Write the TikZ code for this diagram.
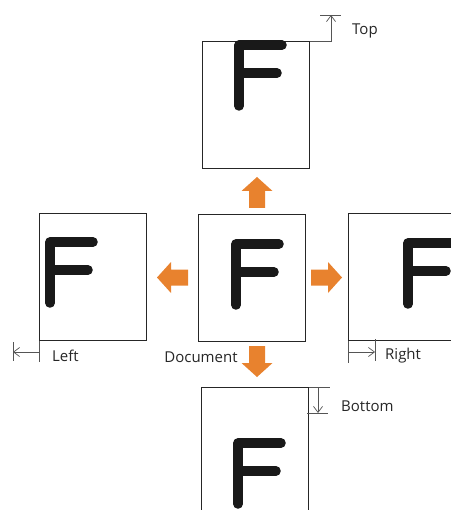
\documentclass[tikz,border=0pt]{standalone}
\usepackage{fontspec}
\setmainfont{Open Sans}
\usetikzlibrary{arrows.meta}

\definecolor{docorange}{HTML}{E8822E}
\definecolor{rulegray}{HTML}{555555}

\tikzset{
  page/.style={draw=black!85, line width=0.8pt, minimum width=107pt,
    minimum height=127pt, inner sep=0pt, anchor=north west},
  dimline/.style={draw=rulegray, line width=0.7pt},
  dimarrow/.style={dimline, -{Straight Barb[length=6pt,width=9pt]}},
  dimlabel/.style={anchor=west, inner sep=0pt, text=black!85,
    font=\fontsize{15}{17}\selectfont},
  pics/glyphF/.style={code={
    \draw[line width=9.5pt, line cap=round, line join=round, black!90]
      (43,0) -- (0,0) -- (0,61);
    \draw[line width=9.5pt, line cap=round, black!90] (0,28) -- (38,28);
  }},
  pics/blockarrow/.style={code={
    \fill[docorange] (0,0) -- (15.5,14) -- (8,14) -- (8,31) -- (-8,31)
      -- (-8,14) -- (-15.5,14) -- cycle;
  }},
}

\begin{document}
\begin{tikzpicture}[x=1pt, y=-1pt]
  \useasboundingbox (0,0) rectangle (450,510);

  % pages
  \node[page] (toppage) at (202,41) {};
  \node[page] (docpage) at (198,214) {};
  \node[page] (leftpage) at (39,213) {};
  \node[page] (rightpage) at (348,213) {};
  \node[page] (bottompage) at (201,387) {};

  % the letter on each page
  \pic at (239,45) {glyphF};
  \pic at (236,244) {glyphF};
  \pic at (50,242) {glyphF};
  \pic at (408,243) {glyphF};
  \pic at (238,443) {glyphF};

  % orange arrows
  \pic at (257,177) {blockarrow};
  \pic[rotate=180] at (257,377) {blockarrow};
  \pic[rotate=90] at (157,277.5) {blockarrow};
  \pic[rotate=-90] at (342,277.5) {blockarrow};

  % top offset
  \coordinate (topend) at (331,15);
  \draw[dimarrow] (toppage.north east) -| (topend);
  \draw[dimline] (320,15) -- (341,15);
  \node[dimlabel] (toplabel) at (352,31) {Top};

  % left offset
  \coordinate (leftend) at (13,352);
  \draw[dimline] (leftpage.south west) -- ++(0,21);
  \draw[dimline] (13,342) -- (13,361);
  \draw[dimarrow] (39,352) -- (leftend);
  \node[dimlabel] (leftlabel) at (52,356) {Left};

  % right offset
  \coordinate (rightend) at (375,352);
  \draw[dimline] (rightpage.south west) -- ++(0,22);
  \draw[dimline] (375,339) -- (375,361);
  \draw[dimarrow] (348,352) -- (rightend);
  \node[dimlabel] (rightlabel) at (385,356) {Right};

  % bottom offset
  \coordinate (bottomend) at (318,413);
  \draw[dimline] (bottompage.north east) -- ++(21,0);
  \draw[dimline] (307,413) -- (328,413);
  \draw[dimarrow] (318,387) -- (bottomend);
  \node[dimlabel] (bottomlabel) at (341,406) {Bottom};

  \node[dimlabel, anchor=center] (doclabel) at (201,357) {Document};
\end{tikzpicture}
\end{document}
